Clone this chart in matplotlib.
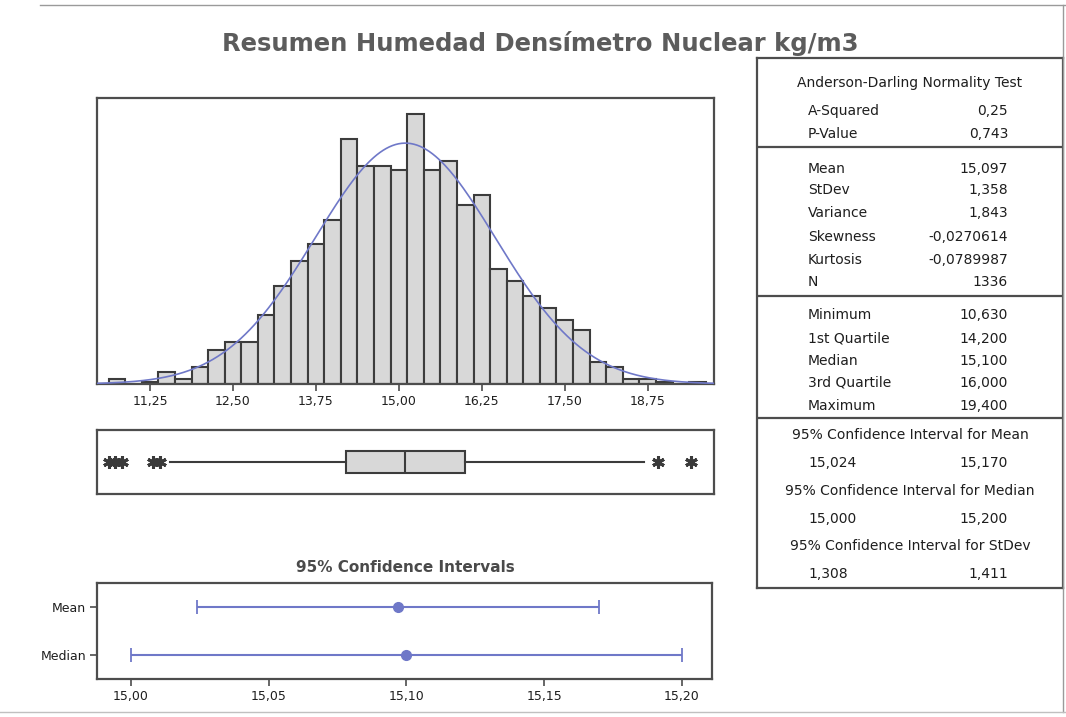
import numpy as np
import matplotlib
matplotlib.use("Agg")
from matplotlib import pyplot as plt

# histogram data (bin centres, bin width 0.25)
bin_centers = [10.75, 11.00, 11.25, 11.50, 11.75, 12.00, 12.25, 12.50, 12.75, 13.00,
               13.25, 13.50, 13.75, 14.00, 14.25, 14.50, 14.75, 15.00, 15.25, 15.50,
               15.75, 16.00, 16.25, 16.50, 16.75, 17.00, 17.25, 17.50, 17.75, 18.00,
               18.25, 18.50, 18.75, 19.00, 19.25, 19.50]
bin_counts = [2, 0, 1, 5, 2, 7, 14, 17, 17, 28,
              40, 50, 57, 67, 100, 89, 89, 87, 110, 87,
              91, 73, 77, 47, 42, 36, 31, 26, 22, 9,
              7, 2, 2, 1, 0, 1]
bin_width = 0.25
hist_ticks = [11.25, 12.50, 13.75, 15.00, 16.25, 17.50, 18.75]
hist_tick_labels = ["11,25", "12,50", "13,75", "15,00", "16,25", "17,50", "18,75"]

# summary statistics
mean, stdev, n = 15.097, 1.358, 1336
q1, median, q3 = 14.2, 15.1, 16.0
whisker_low, whisker_high = 11.55, 18.7
outliers = [10.63, 10.72, 10.82, 11.3, 11.4, 18.9, 19.4]

# confidence intervals
ci_names = ["Median", "Mean"]
ci_centers = [15.1, 15.097]
ci_low = [15.000, 15.024]
ci_high = [15.200, 15.170]
ci_ticks = [15.00, 15.05, 15.10, 15.15, 15.20]
ci_tick_labels = ["15,00", "15,05", "15,10", "15,15", "15,20"]

# table text
ad_rows = [("A-Squared", "0,25"), ("P-Value", "0,743")]
moment_rows = [("Mean", "15,097"), ("StDev", "1,358"), ("Variance", "1,843"),
               ("Skewness", "-0,0270614"), ("Kurtosis", "-0,0789987"), ("N", "1336")]
quantile_rows = [("Minimum", "10,630"), ("1st Quartile", "14,200"), ("Median", "15,100"),
                 ("3rd Quartile", "16,000"), ("Maximum", "19,400")]
ci_rows = [("95% Confidence Interval for Mean", "15,024", "15,170"),
           ("95% Confidence Interval for Median", "15,000", "15,200"),
           ("95% Confidence Interval for StDev", "1,308", "1,411")]

W, H = 1066, 717
fig = plt.figure(figsize=(W / 100, H / 100), dpi=100)
frame_col = "#4d4d4d"
blue = "#6f78c8"
txt = "#1e1e1e"


def box(x0, y0, x1, y1):
    # pixel box -> figure fraction
    return [x0 / W, 1 - y1 / H, (x1 - x0) / W, (y1 - y0) / H]


def style_frame(ax):
    for s in ax.spines.values():
        s.set_color(frame_col)
        s.set_linewidth(1.6)


fig.text(540 / W, 1 - 44 / H, "Resumen Humedad Densímetro Nuclear kg/m3",
         ha="center", va="center", fontsize=17.5, fontweight="bold", color="#5c5c5c")

# histogram
ax1 = fig.add_axes(box(97, 98, 714, 384))
ax1.bar(bin_centers, bin_counts, width=bin_width, color="#d8d8d8",
        edgecolor="#3c3c3c", linewidth=1.5, zorder=2)
xs = np.linspace(10.45, 19.75, 400)
ys = n * bin_width * np.exp(-0.5 * ((xs - mean) / stdev) ** 2) / (stdev * np.sqrt(2 * np.pi))
ax1.plot(xs, ys, color=blue, lw=1.2, zorder=3)
ax1.set_xlim(10.45, 19.75)
ax1.set_ylim(0, 116.5)
ax1.set_yticks([])
ax1.set_xticks(hist_ticks)
ax1.set_xticklabels(hist_tick_labels, fontsize=9, color=txt)
ax1.tick_params(axis="x", direction="out", length=5, width=1.2, color=frame_col, pad=3)
style_frame(ax1)

# boxplot
ax2 = fig.add_axes(box(97, 430, 714, 494))
stats = [dict(med=median, q1=q1, q3=q3, whislo=whisker_low, whishi=whisker_high,
              fliers=outliers)]
ax2.bxp(stats, positions=[1], widths=0.34, vert=False, showcaps=False, patch_artist=True,
        boxprops=dict(facecolor="#d8d8d8", edgecolor="#3c3c3c", linewidth=1.5),
        medianprops=dict(color="#3c3c3c", linewidth=1.5),
        whiskerprops=dict(color="#3c3c3c", linewidth=1.5),
        flierprops=dict(marker=(6, 2, 0), markersize=9, markeredgewidth=2.2,
                        markeredgecolor="#3a3a3a", markerfacecolor="#3a3a3a"))
ax2.set_xlim(10.45, 19.75)
ax2.set_ylim(0.5, 1.5)
ax2.set_xticks([])
ax2.set_yticks([])
style_frame(ax2)

# confidence intervals
fig.text(405 / W, 1 - 568 / H, "95% Confidence Intervals", ha="center", va="center",
         fontsize=11, fontweight="bold", color="#4a4a4a")
ax3 = fig.add_axes(box(97, 583, 712, 679))
ypos = np.arange(len(ci_names))
ax3.errorbar(ci_centers, ypos,
             xerr=[np.array(ci_centers) - np.array(ci_low), np.array(ci_high) - np.array(ci_centers)],
             fmt="o", color=blue, ecolor=blue, elinewidth=1.5, capsize=5, capthick=1.3,
             markersize=7)
ax3.set_xlim(14.9877, 15.2109)
ax3.set_ylim(-0.48, 1.48)
ax3.set_yticks(ypos)
ax3.set_yticklabels(ci_names, fontsize=9, color=txt)
ax3.set_xticks(ci_ticks)
ax3.set_xticklabels(ci_tick_labels, fontsize=9, color=txt)
ax3.tick_params(direction="out", length=5, width=1.2, color=frame_col, pad=3)
style_frame(ax3)

# statistics table, laid out in pixel coordinates
axt = fig.add_axes(box(757, 58, 1063, 588))
axt.set_xlim(757, 1063)
axt.set_ylim(588, 58)
axt.set_xticks([])
axt.set_yticks([])
style_frame(axt)
for yl in [147, 296, 418]:
    axt.axhline(yl, color=frame_col, lw=1.6)

fs = 10
lx, rx = 808, 1008
axt.text(910, 83, "Anderson-Darling Normality Test", ha="center", va="center",
         fontsize=fs, color=txt)
for (lab, val), y in zip(ad_rows, [111, 134]):
    axt.text(lx, y, lab, ha="left", va="center", fontsize=fs, color=txt)
    axt.text(rx, y, val, ha="right", va="center", fontsize=fs, color=txt)
for (lab, val), y in zip(moment_rows, [169, 190, 213, 237, 260, 282]):
    axt.text(lx, y, lab, ha="left", va="center", fontsize=fs, color=txt)
    axt.text(rx, y, val, ha="right", va="center", fontsize=fs, color=txt)
for (lab, val), y in zip(quantile_rows, [315, 339, 361, 383, 406]):
    axt.text(lx, y, lab, ha="left", va="center", fontsize=fs, color=txt)
    axt.text(rx, y, val, ha="right", va="center", fontsize=fs, color=txt)
for (head, lo, hi), y in zip(ci_rows, [435, 491, 546]):
    axt.text(910, y, head, ha="center", va="center", fontsize=fs, color=txt)
    axt.text(lx, y + 28, lo, ha="left", va="center", fontsize=fs, color=txt)
    axt.text(rx, y + 28, hi, ha="right", va="center", fontsize=fs, color=txt)

# page border from the scan
fig.add_artist(plt.Line2D([40 / W, 1], [1 - 5 / H, 1 - 5 / H], color="#9a9a9a", lw=1))
fig.add_artist(plt.Line2D([1063 / W, 1063 / W], [1 - 712 / H, 1 - 5 / H], color="#9a9a9a", lw=1))
fig.add_artist(plt.Line2D([0, 1], [1 - 712 / H, 1 - 712 / H], color="#c0c0c0", lw=1))

plt.savefig("out.png", dpi=100)
